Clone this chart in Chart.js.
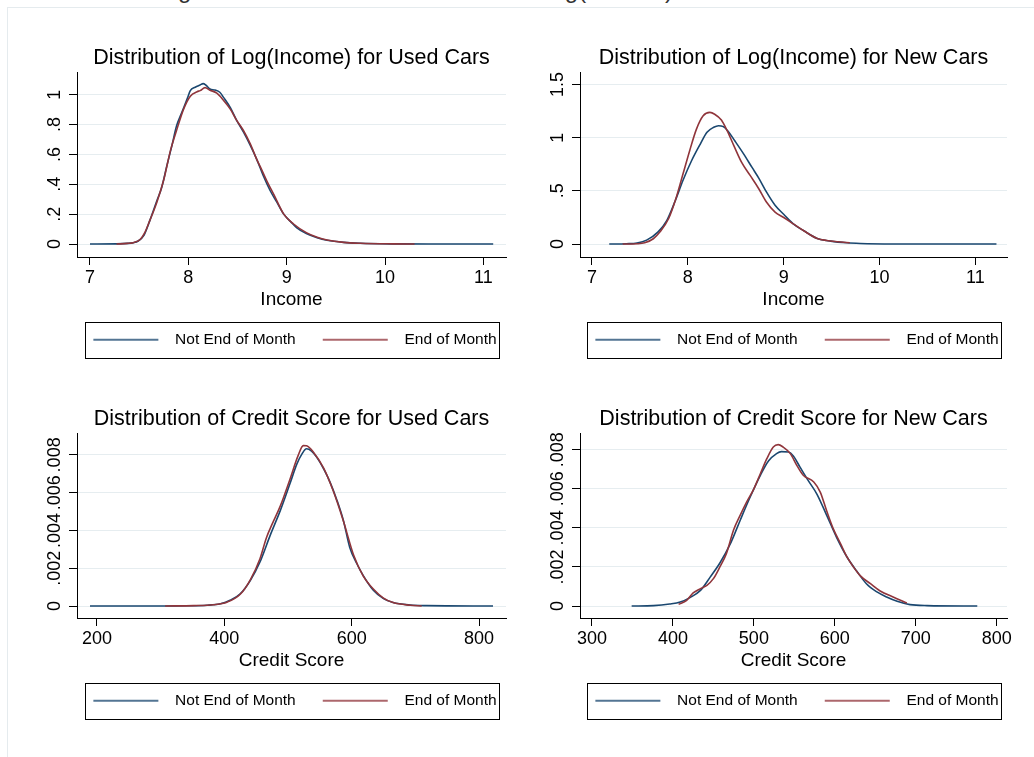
<!DOCTYPE html>
<html>
<head>
<meta charset="utf-8">
<title>Distributions of Log(Income) and Credit Score</title>
<script src="https://cdn.jsdelivr.net/npm/chart.js@4.4.1/dist/chart.umd.min.js"></script>
<style>
  html, body { margin: 0; padding: 0; background: #fff; }
  body { width: 1034px; height: 757px; overflow: hidden; position: relative;
         font-family: "Liberation Sans", Arial, sans-serif; }
  .caption { position: absolute; left: 158px; top: -22px; font-size: 24px; line-height: 24px;
             color: #333; white-space: nowrap; }
  .frame { position: absolute; left: 7px; top: 7px; width: 1100px; height: 800px;
           border-top: 1px solid #e5ebee; border-left: 1px solid #e5ebee; }
  canvas { position: absolute; }
</style>
</head>
<body>
<div class="caption">Figure 5: Estimated Distributions of Log(Income) and Credit Score</div>
<div class="frame"></div>
<canvas id="incUsed"    width="509" height="320" style="left:37px;top:40px"></canvas>
<canvas id="incNew"     width="507" height="320" style="left:540px;top:40px"></canvas>
<canvas id="creditUsed" width="509" height="320" style="left:37px;top:401px"></canvas>
<canvas id="creditNew"  width="507" height="320" style="left:540px;top:401px"></canvas>
<script>
// Kernel density curves.
// Blue = not end of month, red = end of month.

const seriesNames = ['Not End of Month', 'End of Month'];

/* ------------------------------- Tick labels ------------------------------ */
const incomeTicks     = [7, 8, 9, 10, 11];
const incUsedYTicks   = [0, 0.2, 0.4, 0.6, 0.8, 1];
const incNewYTicks    = [0, 0.5, 1, 1.5];
const creditUsedTicks = [200, 400, 600, 800];
const creditNewTicks  = [300, 400, 500, 600, 700, 800];
const creditYTicks    = [0, 0.002, 0.004, 0.006, 0.008];

/* ------------------------- Log(Income), used cars ------------------------- */
const incUsedNotX = [7.0, 7.27, 7.38, 7.44, 7.49, 7.55, 7.61, 7.68, 7.73, 7.78, 7.83, 7.88, 7.93, 7.99,
  8.02, 8.07, 8.12, 8.15, 8.18, 8.22, 8.27, 8.32, 8.36, 8.43, 8.49, 8.56, 8.63, 8.70, 8.76, 8.83,
  8.90, 8.97, 9.04, 9.10, 9.20, 9.31, 9.41, 9.58, 9.75, 10.08, 10.5, 11.1];
const incUsedNotY = [0, 0.001, 0.004, 0.009, 0.02, 0.06, 0.16, 0.29, 0.38, 0.52, 0.65, 0.79, 0.875, 0.975,
  1.027, 1.05, 1.065, 1.074, 1.063, 1.038, 1.031, 1.016, 0.98, 0.91, 0.83, 0.75, 0.66, 0.56, 0.46, 0.36,
  0.28, 0.20, 0.15, 0.11, 0.07, 0.042, 0.025, 0.011, 0.005, 0.001, 0, 0];
const incUsedEomX = [7.27, 7.38, 7.44, 7.51, 7.56, 7.61, 7.68, 7.75, 7.82, 7.88, 7.95, 8.02, 8.09, 8.12,
  8.17, 8.22, 8.29, 8.36, 8.43, 8.49, 8.56, 8.63, 8.70, 8.73, 8.80, 8.87, 8.97, 9.07, 9.20, 9.31,
  9.41, 9.58, 9.75, 10.08, 10.3];
const incUsedEomY = [0, 0.004, 0.009, 0.03, 0.08, 0.16, 0.28, 0.43, 0.63, 0.76, 0.90, 0.99, 1.02, 1.027,
  1.047, 1.03, 1.01, 0.96, 0.90, 0.83, 0.76, 0.67, 0.56, 0.52, 0.42, 0.33, 0.20, 0.134, 0.076, 0.045,
  0.027, 0.011, 0.005, 0.001, 0];

/* -------------------------- Log(Income), new cars ------------------------- */
const incNewNotX = [7.18, 7.36, 7.47, 7.57, 7.69, 7.78, 7.87, 7.95, 8.04, 8.13, 8.20, 8.27, 8.32, 8.37,
  8.42, 8.49, 8.58, 8.67, 8.74, 8.82, 8.91, 9.00, 9.10, 9.21, 9.35, 9.49, 9.66, 9.80, 10.15, 10.7, 11.22];
const incNewNotY = [0, 0.003, 0.01, 0.037, 0.115, 0.22, 0.41, 0.60, 0.785, 0.94, 1.05, 1.097, 1.112, 1.103,
  1.06, 0.97, 0.85, 0.72, 0.62, 0.49, 0.365, 0.28, 0.19, 0.125, 0.053, 0.028, 0.012, 0.006, 0.001, 0, 0];
const incNewEomX = [7.32, 7.47, 7.55, 7.64, 7.71, 7.80, 7.88, 7.95, 8.02, 8.09, 8.16, 8.23, 8.28, 8.35,
  8.41, 8.48, 8.56, 8.65, 8.74, 8.82, 8.91, 9.00, 9.10, 9.21, 9.35, 9.45, 9.57, 9.69];
const incNewEomY = [0, 0.003, 0.012, 0.05, 0.115, 0.24, 0.44, 0.66, 0.88, 1.08, 1.205, 1.237, 1.22, 1.165,
  1.065, 0.925, 0.77, 0.645, 0.52, 0.395, 0.30, 0.25, 0.19, 0.125, 0.053, 0.034, 0.022, 0.012];

/* ------------------------- Credit score, used cars ------------------------ */
const creditUsedNotX = [189, 299, 341, 373, 394, 409, 425, 441, 456, 472, 488, 503, 514, 522, 529, 537,
  545, 556, 566, 577, 587, 597, 608, 618, 634, 650, 665, 692, 718, 822];
const creditUsedNotY = [0, 0, 0.00001, 0.00004, 0.00012, 0.0003, 0.00065, 0.00136, 0.00233, 0.00374,
  0.00506, 0.00647, 0.00752, 0.00805, 0.00832, 0.0082, 0.00788, 0.00726, 0.00656, 0.00559, 0.00453,
  0.0031, 0.00225, 0.00162, 0.00083, 0.00039, 0.00018, 0.00005, 0.00002, 0];
const creditUsedEomX = [307, 352, 383, 404, 425, 441, 456, 466, 476, 488, 503, 516, 524, 529, 540, 556,
  571, 587, 603, 618, 634, 650, 665, 692, 710];
const creditUsedEomY = [0, 0.00002, 0.00007, 0.0002, 0.00062, 0.0014, 0.0025, 0.0036, 0.0044, 0.0053,
  0.0067, 0.00797, 0.00849, 0.00848, 0.00814, 0.0073, 0.0061, 0.0045, 0.0027, 0.0016, 0.0009, 0.00042,
  0.00018, 0.00004, 0];

/* ------------------------- Credit score, new cars ------------------------- */
const creditNewNotX = [349, 376, 396, 409, 421, 434, 446, 458, 471, 483, 495, 508, 518, 528, 534, 543,
  549, 557, 567, 578, 590, 602, 615, 627, 639, 652, 664, 677, 693, 714, 776];
const creditNewNotY = [0, 0.00002, 0.0001, 0.0002, 0.00043, 0.0008, 0.00148, 0.0022, 0.00319, 0.00438,
  0.00554, 0.00669, 0.00742, 0.0078, 0.0079, 0.00788, 0.00766, 0.00711, 0.00643, 0.00572, 0.00464,
  0.00353, 0.00251, 0.00179, 0.00114, 0.00072, 0.00046, 0.00024, 0.00007, 0.00002, 0];
const creditNewEomX = [407, 417, 425, 434, 442, 450, 458, 466, 475, 483, 491, 500, 508, 516, 524, 530,
  536, 545, 553, 561, 574, 582, 590, 598, 607, 615, 623, 631, 644, 656, 672, 689];
const creditNewEomY = [0.00009, 0.00029, 0.00067, 0.00089, 0.00106, 0.0014, 0.002, 0.00268, 0.0039,
  0.00464, 0.00532, 0.006, 0.00677, 0.00754, 0.00814, 0.00826, 0.00814, 0.0078, 0.0072, 0.00669,
  0.00635, 0.00583, 0.00486, 0.00396, 0.00319, 0.00251, 0.002, 0.00157, 0.00114, 0.00077, 0.00046,
  0.00015];

/* --------------------------------- Styling -------------------------------- */
const NAVY = '#1a476f';
const MAROON = '#90353b';
const GRID = '#e6edf0';
const LEG_W = 81;   // legend sample slot, line sits 7px in

Chart.defaults.font.family = '"Liberation Sans", Arial, Helvetica, sans-serif';
Chart.defaults.color = '#000';

const pts = (xs, ys) => xs.map((x, i) => ({ x, y: ys[i] }));

// Stata style numbers: ".2", ".002", "1.5"
function stataNum(v) {
  const s = String(Number(Number(v).toFixed(6)));
  return s.replace(/^0\./, '.').replace(/^-0\./, '-.');
}

function legendLine(color) {
  const c = document.createElement('canvas');
  c.width = LEG_W; c.height = 4;
  const g = c.getContext('2d');
  g.strokeStyle = color; g.lineWidth = 1.6;
  g.beginPath(); g.moveTo(7, 2); g.lineTo(72, 2); g.stroke();
  return c;
}

// box round the legend, like Stata draws it
const legendFrame = {
  id: 'legendFrame',
  afterDraw(chart) {
    const hb = chart.legend && chart.legend.legendHitBoxes;
    if (!hb || !hb.length) return;
    const first = hb[0], last = hb[hb.length - 1];
    const x0 = Math.round(first.left - 1) + 0.5;
    const x1 = Math.round(last.left + last.width + 2) + 0.5;
    const y0 = Math.round(first.top - 10) + 0.5;
    const y1 = Math.round(first.top + first.height + 10) + 0.5;
    const ctx = chart.ctx;
    ctx.save();
    ctx.strokeStyle = '#000';
    ctx.lineWidth = 1;
    ctx.strokeRect(x0, y0, x1 - x0, y1 - y0);
    ctx.restore();
  }
};

function makePanel(id, p) {
  return new Chart(document.getElementById(id), {
    type: 'line',
    data: {
      datasets: [
        { label: seriesNames[0], data: pts(p.notX, p.notY), borderColor: NAVY, backgroundColor: NAVY,
          pointStyle: legendLine(NAVY), yAxisID: 'y', order: 1 },
        { label: seriesNames[1], data: pts(p.eomX, p.eomY), borderColor: MAROON, backgroundColor: MAROON,
          pointStyle: legendLine(MAROON), yAxisID: 'y', order: 0 }
      ]
    },
    options: {
      responsive: false,
      animation: false,
      events: [],
      layout: { padding: { top: 0, left: 0, right: 0, bottom: 2.5 } },
      elements: {
        point: { radius: 0 },
        line: { borderWidth: 1.6, cubicInterpolationMode: 'monotone', fill: false }
      },
      plugins: {
        title: { display: true, text: p.title, color: '#000', font: { size: 21.5, weight: 'normal' },
                 padding: { top: 5, bottom: 1.9 } },
        legend: {
          position: 'bottom',
          labels: { usePointStyle: true, pointStyleWidth: LEG_W, padding: 20, color: '#000',
                    font: { size: 15.5 }, sort: (a, b) => a.datasetIndex - b.datasetIndex }
        },
        tooltip: { enabled: false }
      },
      scales: {
        x: {
          type: 'linear', min: p.xMin, max: p.xMax,
          afterBuildTicks: s => { s.ticks = p.xTicks.map(v => ({ value: v })); },
          afterFit: s => { s.height = 55; },
          grid: { drawOnChartArea: false, tickLength: 8, tickColor: '#000' },
          border: { color: '#000', width: 1 },
          ticks: { color: '#000', font: { size: 18 }, padding: 2.2, autoSkip: false,
                   maxRotation: 0, callback: stataNum },
          title: { display: true, text: p.xTitle, color: '#000', font: { size: 19 },
                   padding: { top: 0, bottom: 1.3 } }
        },
        y: {
          type: 'linear', position: 'left', min: p.yMin, max: p.yMax,
          afterBuildTicks: s => { s.ticks = p.yTicks.map(v => ({ value: v })); },
          afterFit: s => { s.width = 40; },
          grid: { color: GRID, tickLength: 8, tickColor: '#000' },
          border: { color: '#000', width: 1 },
          ticks: { color: '#000', font: { size: 18 }, minRotation: 90, maxRotation: 90,
                   crossAlign: 'center', padding: p.yPad, autoSkip: false, callback: stataNum }
        },
        // empty twin on the right so the title and legend centre on the plot
        yr: {
          type: 'linear', position: 'right', display: true,
          grid: { display: false }, border: { display: false }, ticks: { display: false },
          afterFit: s => { s.width = 40; }
        }
      }
    },
    plugins: [legendFrame]
  });
}

makePanel('incUsed', {
  title: 'Distribution of Log(Income) for Used Cars', xTitle: 'Income',
  notX: incUsedNotX, notY: incUsedNotY, eomX: incUsedEomX, eomY: incUsedEomY,
  xTicks: incomeTicks, yTicks: incUsedYTicks,
  xMin: 6.868, xMax: 11.23, yMin: -0.087, yMax: 1.147, yPad: 6.8
});
makePanel('incNew', {
  title: 'Distribution of Log(Income) for New Cars', xTitle: 'Income',
  notX: incNewNotX, notY: incNewNotY, eomX: incNewEomX, eomY: incNewEomY,
  xTicks: incomeTicks, yTicks: incNewYTicks,
  xMin: 6.875, xMax: 11.33, yMin: -0.1215, yMax: 1.61, yPad: 1.8
});
makePanel('creditUsed', {
  title: 'Distribution of Credit Score for Used Cars', xTitle: 'Credit Score',
  notX: creditUsedNotX, notY: creditUsedNotY, eomX: creditUsedEomX, eomY: creditUsedEomY,
  xTicks: creditUsedTicks, yTicks: creditYTicks,
  xMin: 168.6, xMax: 842.4, yMin: -0.000635, yMax: 0.00912, yPad: -3.2
});
makePanel('creditNew', {
  title: 'Distribution of Credit Score for New Cars', xTitle: 'Credit Score',
  notX: creditNewNotX, notY: creditNewNotY, eomX: creditNewEomX, eomY: creditNewEomY,
  xTicks: creditNewTicks, yTicks: creditYTicks,
  xMin: 285.2, xMax: 812.7, yMin: -0.000614, yMax: 0.00882, yPad: -3.2
});
</script>
</body>
</html>
